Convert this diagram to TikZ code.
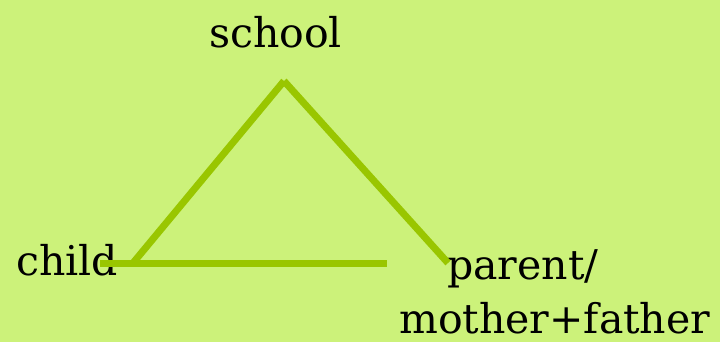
\documentclass[tikz,border=0pt]{standalone}
\usepackage{fontspec}
\setmainfont{DejaVu Serif}
\definecolor{bggreen}{HTML}{CCF27A}
\definecolor{linegreen}{HTML}{99C600}
\begin{document}
\begin{tikzpicture}[
x=1pt, y=-1pt,
word/.style={inner sep=0pt, anchor=base, font=\fontsize{41}{56}\selectfont},
edge/.style={linegreen, line width=7pt}
]
\fill[bggreen] (0,0) rectangle (720,342);
\useasboundingbox (0,0) rectangle (720,342);
\node[word] (school) at (275.5,48) {school};
\node[word] (child) at (67,275) {child};
\node[word, anchor=base west] (parent) at (447,279) {parent/};
\node[word, anchor=base west] (family) at (399,333) {mother+father};

\coordinate (apex) at (284,81);
\coordinate (leftfoot) at (133,263);
\coordinate (rightfoot) at (448,263);
\coordinate (basestart) at (100,263);
\coordinate (baseend) at (387,263);

\draw[edge] (leftfoot) -- (apex);
\draw[edge] (apex) -- (rightfoot);
\draw[edge] (basestart) -- (baseend);
\end{tikzpicture}
\end{document}
